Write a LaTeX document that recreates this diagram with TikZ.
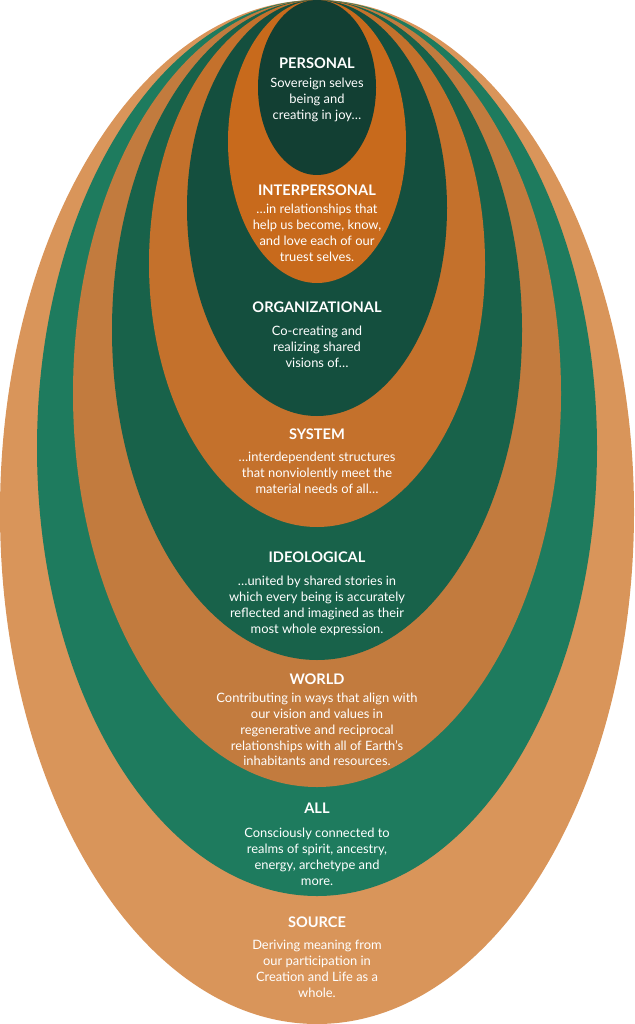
\documentclass[tikz,border=0pt]{standalone}
\usepackage{fontspec}
\setmainfont{Lato}
\definecolor{csource}{HTML}{D9955A}
\definecolor{call}{HTML}{1E7B5E}
\definecolor{cworld}{HTML}{C27B3E}
\definecolor{cideo}{HTML}{18624A}
\definecolor{csystem}{HTML}{C4712C}
\definecolor{corg}{HTML}{144F3E}
\definecolor{cinter}{HTML}{C86A1C}
\definecolor{cpers}{HTML}{123F33}

\begin{document}
\begin{tikzpicture}[
    x=1pt, y=1pt,
    every node/.style={text=white, inner sep=0pt},
    ringtitle/.style={font=\fontsize{14.6}{16}\selectfont\bfseries},
    ringtext/.style={font=\fontsize{12.9}{15.8}\selectfont, align=center, anchor=north},
]
\useasboundingbox (0,0) rectangle (634,-1024);

\def\cx{317}

% the rings, outermost first; each one touches the top edge
\foreach \rx/\ry/\col in {317/512/csource, 280/448/call, 244/393.5/cworld,
    205/330/cideo, 168/263.5/csystem, 130/208/corg, 89/141.5/cinter, 59/87.5/cpers}{
    \fill[\col] (\cx,-\ry) ellipse [x radius=\rx, y radius=\ry];
}

% personal
\node[ringtitle] (personal) at (\cx,-63) {PERSONAL};
\node[ringtext] (personal-text) at (\cx,-78)
    {Sovereign selves\\being and\\creating in joy…};

% interpersonal
\node[ringtitle] (interpersonal) at (\cx,-190) {INTERPERSONAL};
\node[ringtext] (interpersonal-text) at (\cx,-204)
    {…in relationships that\\help us become, know,\\and love each of our\\truest selves.};

% organizational
\node[ringtitle] (organizational) at (\cx,-307) {ORGANIZATIONAL};
\node[ringtext] (organizational-text) at (\cx,-326)
    {Co-creating and\\realizing shared\\visions of…};

% system
\node[ringtitle] (system) at (\cx,-434) {SYSTEM};
\node[ringtext] (system-text) at (\cx,-452)
    {…interdependent structures\\that nonviolently meet the\\material needs of all…};

% ideological
\node[ringtitle] (ideological) at (\cx,-557) {IDEOLOGICAL};
\node[ringtext] (ideological-text) at (\cx,-576)
    {…united by shared stories in\\which every being is accurately\\reflected and imagined as their\\most whole expression.};

% world
\node[ringtitle] (world) at (\cx,-679) {WORLD};
\node[ringtext] (world-text) at (\cx,-693)
    {Contributing in ways that align with\\our vision and values in\\regenerative and reciprocal\\relationships with all of Earth’s\\inhabitants and resources.};

% all
\node[ringtitle] (all) at (\cx,-808) {ALL};
\node[ringtext] (all-text) at (\cx,-828)
    {Consciously connected to\\realms of spirit, ancestry,\\energy, archetype and\\more.};

% source
\node[ringtitle] (source) at (\cx,-922) {SOURCE};
\node[ringtext] (source-text) at (\cx,-940)
    {Deriving meaning from\\our participation in\\Creation and Life as a\\whole.};

\end{tikzpicture}
\end{document}
